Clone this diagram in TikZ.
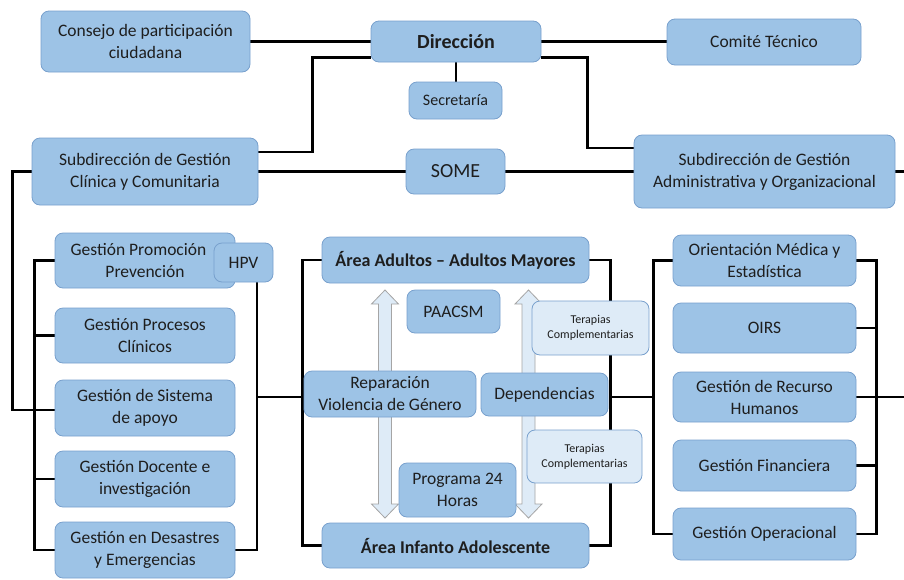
\documentclass[tikz,border=0pt]{standalone}
\usepackage{fontspec}
\setmainfont{Carlito}
\usetikzlibrary{calc,backgrounds}
\definecolor{boxfill}{RGB}{157,195,230}
\definecolor{boxline}{RGB}{120,160,205}
\definecolor{lightfill}{RGB}{222,235,247}
\definecolor{arrline}{RGB}{165,165,165}
\definecolor{txt}{RGB}{30,30,30}
\begin{document}
\begin{tikzpicture}[x=1pt,y=-1pt,
  box/.style={draw=boxline, line width=0.8pt, fill=boxfill, rounded corners=8pt, align=center, inner sep=0pt, text=txt, font=\fontsize{17.5}{22}\selectfont},
  lbox/.style={box, fill=lightfill, font=\fontsize{12}{15}\selectfont},
  conn/.style={line width=2.3pt, black},
  fatarrow/.style={fill=lightfill, draw=arrline, line width=0.8pt}
]
\useasboundingbox (0,0) rectangle (904,579);
% top
\node[box, minimum width=209pt, minimum height=61pt] (consejo) at (145.5,41.5) {Consejo de participación\\ciudadana};
\node[box, minimum width=170pt, minimum height=41pt, font=\fontsize{20}{24}\selectfont\bfseries] (dir) at (456,41.5) {Dirección};
\node[box, minimum width=93pt, minimum height=37pt, font=\fontsize{16}{20}\selectfont] (secr) at (455.5,100.5) {Secretaría};
\node[box, minimum width=99pt, minimum height=45pt, font=\fontsize{20}{24}\selectfont] (some) at (455.5,171.5) {SOME};
\node[box, minimum width=194pt, minimum height=46pt] (comite) at (764,42) {Comité Técnico};
\node[box, minimum width=226pt, minimum height=67pt] (subc) at (145,171.5) {Subdirección de Gestión\\Clínica y Comunitaria};
\node[box, minimum width=261pt, minimum height=73pt] (suba) at (764.5,171.5) {Subdirección de Gestión\\Administrativa y Organizacional};
% left column
\node[box, minimum width=180pt, minimum height=55pt] (prom) at (145,260.5) {Gestión Promoción\hspace*{13pt}\\Prevención};
\node[box, minimum width=59pt, minimum height=39pt] (hpv) at (243.5,262.5) {HPV};
\node[box, minimum width=180pt, minimum height=55pt] (proc) at (145,335.5) {Gestión Procesos\\Clínicos};
\node[box, minimum width=180pt, minimum height=56pt] (apoyo) at (145,408) {Gestión de Sistema\\de apoyo};
\node[box, minimum width=180pt, minimum height=56pt] (docente) at (145,479) {Gestión Docente e\\investigación};
\node[box, minimum width=180pt, minimum height=56pt] (desastres) at (145,550) {Gestión en Desastres\\y Emergencias};
% center
\node[box, minimum width=267pt, minimum height=46pt, font=\fontsize{18}{22}\selectfont\bfseries] (adultos) at (455.5,260) {Área Adultos -- Adultos Mayores};
\node[box, minimum width=267pt, minimum height=45pt, font=\fontsize{18}{22}\selectfont\bfseries] (infanto) at (455.5,545.5) {Área Infanto Adolescente};
\node[box, minimum width=93pt, minimum height=43pt] (paacsm) at (453.5,311.5) {PAACSM};
\foreach \cx in {385,528.5}{
  \draw[fatarrow] (\cx,290) -- (\cx+13.5,304) -- (\cx+6.5,304) -- (\cx+6.5,504) -- (\cx+13.5,504) -- (\cx,518) -- (\cx-13.5,504) -- (\cx-6.5,504) -- (\cx-6.5,304) -- (\cx-13.5,304) -- cycle;
}
\node[box, minimum width=172pt, minimum height=46pt] (repar) at (390,394) {Reparación\\Violencia de Género};
\node[box, minimum width=127pt, minimum height=43pt] (depend) at (544.5,394.5) {Dependencias};
\node[lbox, minimum width=117pt, minimum height=54pt] (ter1) at (590.5,328) {Terapias\\Complementarias};
\node[lbox, minimum width=115pt, minimum height=53pt] (ter2) at (584.5,456.5) {Terapias\\Complementarias};
\node[box, minimum width=117pt, minimum height=54pt] (prog) at (457.5,490) {Programa 24\\Horas};
% right column
\node[box, minimum width=183pt, minimum height=51pt] (orient) at (764.5,260.5) {Orientación Médica y\\Estadística};
\node[box, minimum width=183pt, minimum height=50pt] (oirs) at (764.5,328) {OIRS};
\node[box, minimum width=183pt, minimum height=50pt] (rrhh) at (764.5,397) {Gestión de Recurso\\Humanos};
\node[box, minimum width=183pt, minimum height=51pt] (finan) at (764.5,465.5) {Gestión Financiera};
\node[box, minimum width=183pt, minimum height=52pt] (operac) at (764.5,534) {Gestión Operacional};
% junctions and free ends
\coordinate (jL) at (257,397);
\coordinate (jC1) at (303,397);
\coordinate (jC2) at (610,397);
\coordinate (jR) at (654,397);
\coordinate (offA) at (904,171.5);
\coordinate (offB) at (904,397);
\begin{pgfonlayer}{background}
\draw[conn] (consejo.east) -- (dir.west);
\draw[conn] (dir.east) -- (dir.east -| comite.west);
\draw[conn] (dir.south) -- (dir.south |- secr.north);
\draw[conn] ($(dir.south west)+(0,-5)$) -- ++(-58,0) |- ($(subc.east)+(0,-19.5)$);
\draw[conn] ($(dir.south east)+(0,-5)$) -- ++(46,0) |- ($(suba.west)+(0,-23.5)$);
\draw[conn] (subc.east) -- (some.west);
\draw[conn] (some.east) -- (suba.west);
\draw[conn] (suba.east) -- (offA);
\draw[conn] (subc.west) -- ++(-19,0) |- ($(apoyo.west)+(0,2)$);
% left column brackets
\draw[conn] (prom.west) -- ++(-20,0) |- (desastres.west);
\draw[conn] (proc.west) -- ++(-20,0);
\draw[conn] ($(apoyo.west)+(0,2)$) -- ++(-20,0);
\draw[conn] (docente.west) -- ++(-20,0);
\draw[conn] ($(hpv.south)+(13.5,0)$) |- (desastres.east);
\draw[conn] (jL) -- (jC1);
% center brackets
\draw[conn] (adultos.west) -- ++(-19,0) |- (infanto.west);
\draw[conn] (adultos.east) -- ++(21,0) |- (infanto.east);
\draw[conn] (jC2) -- (jR);
% right column brackets
\draw[conn] (orient.west) -- ++(-19,0) |- (operac.west);
\draw[conn] (orient.east) -- ++(20,0) |- (operac.east);
\draw[conn] (oirs.east) -- ++(20,0);
\draw[conn] (finan.east) -- ++(20,0);
\draw[conn] (rrhh.east) -- (offB);
\end{pgfonlayer}
\end{tikzpicture}
\end{document}
